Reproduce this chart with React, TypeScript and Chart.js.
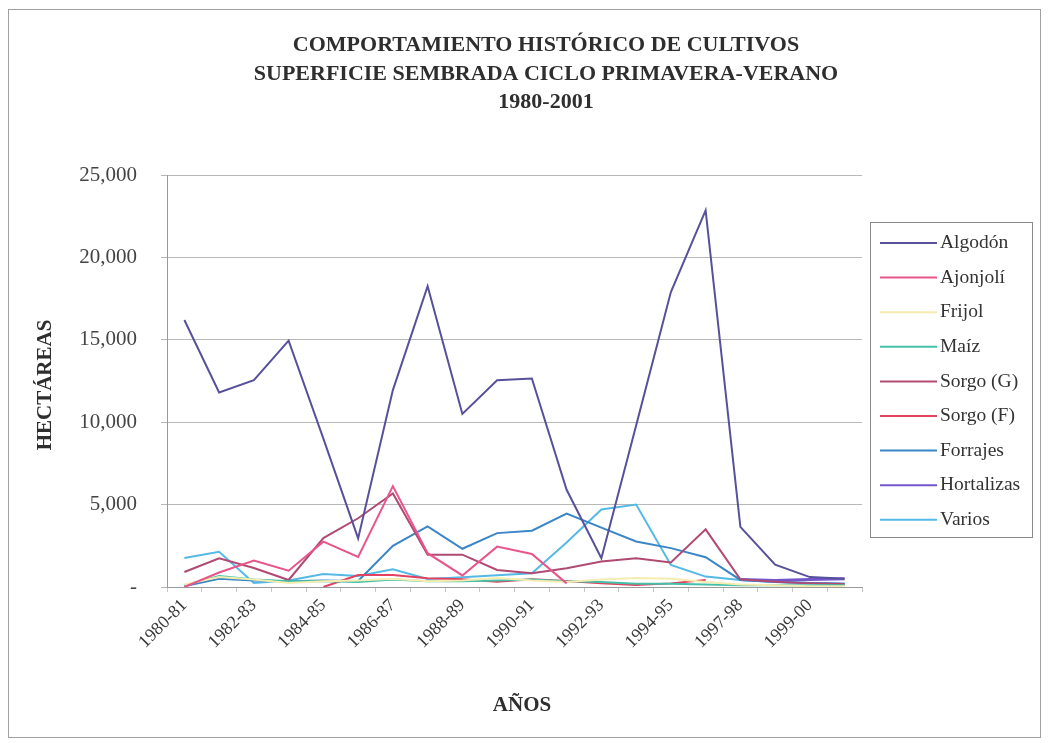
import React, { useEffect, useRef } from "react";
import { Chart, registerables } from "chart.js";

Chart.register(...registerables);

const categories = [
  "1980-81", "1981-82", "1982-83", "1983-84", "1984-85", "1985-86", "1986-87",
  "1987-88", "1988-89", "1989-90", "1990-91", "1991-92", "1992-93", "1993-94",
  "1994-95", "1995-96", "1997-98", "1998-99", "1999-00", "2000-01",
];

const algodon = [16200, 11800, 12550, 14950, 9000, 2950, 11950, 18250, 10500, 12550, 12650, 5900, 1750, 9800, 17900, 22850, 3650, 1350, 600, 500];
const ajonjoli = [0, 880, 1600, 990, 2750, 1820, 6120, 2050, 700, 2450, 2000, 220, null, null, null, null, null, null, null, null];
const frijol = [150, 600, 450, 250, 350, 400, 500, 350, 400, 550, 400, 300, 450, 550, 500, 300, 150, 100, 50, 50];
const maiz = [100, 670, 450, 350, 350, 300, 450, 350, 350, 400, 450, 350, 300, 200, 200, 150, 100, 100, 100, 100];
const sorgoG = [910, 1740, 1150, 425, 2970, 4170, 5670, 1950, 1960, 1030, 830, 1140, 1545, 1750, 1485, 3500, 470, 325, 220, 180];
const sorgoF = [null, null, null, null, 0, 730, 730, 530, 470, 325, 470, 365, 220, 120, 220, 430, null, null, null, null];
const forrajes = [50, 500, 400, 350, 400, 370, 2500, 3680, 2320, 3270, 3415, 4450, 3600, 2765, 2360, 1810, 430, 300, 250, 200];
const hortalizas = [null, null, null, null, null, null, null, null, null, null, null, null, null, null, null, null, 450, 400, 450, 500];
const varios = [1760, 2140, 250, 400, 790, 670, 1075, 490, 590, 710, 830, 2700, 4700, 5000, 1340, 630, 430, 300, 250, 200];

const yTicks = [0, 5000, 10000, 15000, 20000, 25000];

const titleLines = [
  "COMPORTAMIENTO HISTÓRICO DE CULTIVOS",
  "SUPERFICIE SEMBRADA CICLO PRIMAVERA-VERANO",
  "1980-2001",
];

const seriesNames = ["Algodón", "Ajonjolí", "Frijol", "Maíz", "Sorgo (G)", "Sorgo (F)", "Forrajes", "Hortalizas", "Varios"];
const seriesData = [algodon, ajonjoli, frijol, maiz, sorgoG, sorgoF, forrajes, hortalizas, varios];
const seriesColors = ["#57519b", "#e8558a", "#f4ecb0", "#45c0a8", "#b04a72", "#e2415f", "#3a86c8", "#7256cc", "#55b9e6"];

const SERIF = "'Liberation Serif', 'DejaVu Serif', serif";

const decor = {
  id: "decor",
  afterDraw(chart: any) {
    const ctx = chart.ctx;
    ctx.save();
    // frame
    ctx.strokeStyle = "#a0a0a0";
    ctx.lineWidth = 1;
    ctx.strokeRect(8.5, 9.5, 1032, 728);
    // title
    ctx.fillStyle = "#2e2e2e";
    ctx.textAlign = "center";
    ctx.textBaseline = "middle";
    ctx.font = `bold 22px ${SERIF}`;
    const ty = [45, 74, 102];
    titleLines.forEach((t, i) => ctx.fillText(t, 546, ty[i]));
    // x title
    ctx.font = `bold 21px ${SERIF}`;
    ctx.fillText("AÑOS", 522, 706);
    // y title
    ctx.save();
    ctx.translate(46, 385);
    ctx.rotate(-Math.PI / 2);
    ctx.fillText("HECTÁREAS", 0, 0);
    ctx.restore();
    // legend
    ctx.strokeStyle = "#8a8a8a";
    ctx.strokeRect(870.5, 222.5, 162, 315);
    ctx.font = `19.5px ${SERIF}`;
    ctx.textAlign = "left";
    chart.data.datasets.forEach((ds: any, i: number) => {
      const y = 243 + i * 34.6;
      ctx.strokeStyle = ds.borderColor;
      ctx.lineWidth = 2;
      ctx.beginPath();
      ctx.moveTo(880, y);
      ctx.lineTo(937, y);
      ctx.stroke();
      ctx.fillStyle = "#333";
      ctx.fillText(ds.label, 940, y);
    });
    ctx.restore();
  },
};

export default function App() {
  const ref = useRef<HTMLCanvasElement>(null);
  useEffect(() => {
    if (!ref.current) return;
    const chart = new Chart(ref.current, {
      type: "line",
      data: {
        labels: categories,
        datasets: seriesNames.map((name, i) => ({
          label: name,
          data: seriesData[i],
          borderColor: seriesColors[i],
          backgroundColor: seriesColors[i],
          borderWidth: i === 7 ? 3 : 2,
          pointRadius: 0,
          tension: 0,
          fill: false,
          spanGaps: false,
        })),
      },
      options: {
        animation: false,
        responsive: false,
        maintainAspectRatio: false,
        layout: { padding: { left: 0, right: 187, top: 175, bottom: 0 } },
        plugins: {
          legend: { display: false },
          title: { display: false },
          tooltip: { enabled: false },
        },
        scales: {
          x: {
            type: "category",
            offset: true,
            afterFit: (s: any) => { s.height = 156; },
            grid: { display: true, drawOnChartArea: false, drawTicks: true, tickLength: 5, color: "#c8c8c8", offset: true },
            border: { display: true, color: "#9a9a9a" },
            ticks: {
              autoSkip: false,
              maxRotation: 45,
              minRotation: 45,
              padding: 3,
              color: "#3a3a3a",
              font: { family: SERIF, size: 18 },
              callback: (_v: any, idx: number) => (idx % 2 === 0 ? categories[idx] : ""),
            },
          },
          y: {
            min: 0,
            max: 25000,
            afterFit: (s: any) => { s.width = 167; },
            afterBuildTicks: (s: any) => { s.ticks = yTicks.map((v) => ({ value: v })); },
            grid: { color: "#b8b8b8", tickLength: 6, lineWidth: 1 },
            border: { display: true, color: "#9a9a9a" },
            ticks: {
              padding: 24,
              color: "#444",
              font: { family: SERIF, size: 21 },
              callback: (v: any) => (v === 0 ? "-" : Number(v).toLocaleString("en-US")),
            },
          },
        },
      },
      plugins: [decor],
    });
    return () => chart.destroy();
  }, []);
  return (
    <div style={{ position: "absolute", left: 0, top: 0, width: 1049, height: 743, background: "#fff" }}>
      <canvas ref={ref} width={1049} height={743} style={{ width: 1049, height: 743 }} />
    </div>
  );
}
